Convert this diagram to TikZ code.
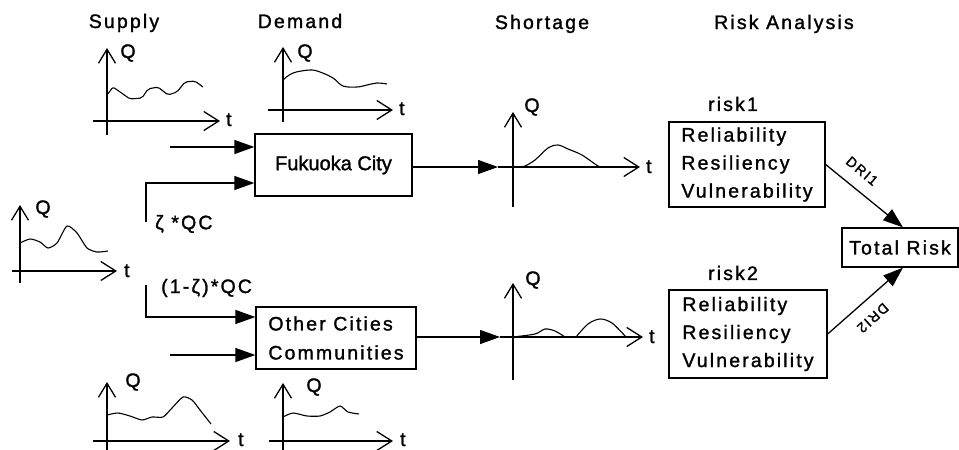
\documentclass[tikz,border=0pt]{standalone}
\usepackage{fontspec}
\setmainfont{Liberation Sans}[LetterSpace=11, FakeBold=1.4]
\newfontfamily\plainsf{Liberation Sans}[FakeBold=1.4]
\usetikzlibrary{arrows.meta}

\begin{document}
\begin{tikzpicture}[x=1pt,y=-1pt,
  lbl/.style={font=\fontsize{19.5}{22}\selectfont, inner sep=0pt},
  small/.style={font=\fontsize{14}{16}\selectfont, inner sep=0pt},
  box/.style={draw, line width=1.3pt, inner sep=0pt},
  vaxis/.style={line width=1.3pt, -{Straight Barb[length=14pt,width=17pt,line width=1.3pt]}},
  haxis/.style={line width=1.3pt, -{Straight Barb[length=15pt,width=19pt,line width=1.3pt]}},
  curve/.style={line width=1.1pt, line join=round},
  feed/.style={line width=1.3pt, -{Triangle[length=20pt,width=14pt]}}
]
\useasboundingbox (0,0) rectangle (959,450);

% column headings
\node[lbl, anchor=base] (hsup) at (124,28) {Supply};
\node[lbl, anchor=base] (hdem) at (300,28) {Demand};
\node[lbl, anchor=base] (hsho) at (542,29) {Shortage};
\node[lbl, anchor=base] (hrsk) at (784,29) {Risk Analysis};

% supply series, upper
\draw[vaxis] (107,135) -- (107,48);
\draw[haxis] (93,121) -- (220,121);
\node[lbl] (qa) at (128,53) {Q};
\node[lbl, anchor=base west] (ta) at (226,126) {t};
\draw[curve, rounded corners=2pt] (107,95) -- (113,87) -- (130,99) -- (142,98) -- (148,89) -- (158,87) -- (168,95) -- (177,92) -- (185,82) -- (195,81) -- (203,87);

% demand series, upper
\draw[vaxis] (283,122) -- (283,47);
\draw[haxis] (268,110) -- (393,110);
\node[lbl] (qb) at (305,53) {Q};
\node[lbl, anchor=base west] (tb) at (399,115) {t};
\draw[curve] plot[smooth, tension=0.6] coordinates {(283,80) (293,73) (310,70) (320,72) (333,78) (343,86) (357,87) (367,85) (377,83) (387,84)};

% total supply QC
\draw[vaxis] (20,283) -- (20,205);
\draw[haxis] (12,271) -- (117,271);
\node[lbl] (qc) at (43,209) {Q};
\node[lbl, anchor=base west] (tc) at (124,277) {t};
\draw[curve] plot[smooth, tension=0.4] coordinates {(20,243) (30,239) (40,242) (48,248) (57,243) (67,226) (77,233) (87,248) (97,252) (108,251)};

% supply series, lower
\draw[vaxis] (107,452) -- (107,382);
\draw[haxis] (93,441) -- (230,441);
\node[lbl] (qd) at (133,382) {Q};
\node[lbl, anchor=base west] (td) at (238,446) {t};
\draw[curve] plot[smooth, tension=0.4] coordinates {(107,415) (118,413) (130,416) (142,420) (152,417) (163,417) (172,408) (183,397) (192,400) (200,410) (211,424)};

% demand series, lower
\draw[vaxis] (283,452) -- (283,383);
\draw[haxis] (269,441) -- (393,441);
\node[lbl] (qe) at (314,387) {Q};
\node[lbl, anchor=base west] (te) at (400,446) {t};
\draw[curve] plot[smooth, tension=0.4] coordinates {(283,417) (293,413) (307,416) (320,416) (330,412) (340,406) (348,412) (359,414)};

% city blocks
\node[box, minimum width=157, minimum height=62] (fuk) at (333.5,165)
  {\plainsf\fontsize{20}{22}\selectfont Fukuoka City};
\node[box, minimum width=160, minimum height=62, align=left,
      font=\fontsize{19.5}{29}\selectfont] (oth) at (336,338)
  {Other Cities\\Communities};

% inflows to Fukuoka City
\coordinate (fa) at (170,147);
\draw[feed] (fa) -- (fa -| fuk.west);
\coordinate (za) at (146,222);
\coordinate (zb) at (146,183);
\draw[feed] (za) -- (zb) -- (zb -| fuk.west);
\node[lbl, anchor=west] (zl) at (155,224) {ζ *QC};

% inflows to other cities
\coordinate (ya) at (146,285);
\coordinate (yb) at (146,317);
\draw[feed] (ya) -- (yb) -- (yb -| oth.west);
\node[lbl, anchor=west] (yl) at (161,288) {(1-ζ)*QC};
\coordinate (fb) at (170,355);
\draw[feed] (fb) -- (fb -| oth.west);

% shortage, Fukuoka City
\coordinate (sa) at (498,167);
\draw[feed] (fuk.east |- sa) -- (sa);
\draw[vaxis] (513,207) -- (513,112);
\draw[haxis] (sa) -- (640,167);
\node[lbl] (qf) at (532,107) {Q};
\node[lbl, anchor=base west] (tf) at (646,173) {t};
\draw[curve] plot[smooth, tension=0.5] coordinates {(518,167) (525,166) (535,160) (548,148) (558,145) (568,149) (582,155) (598,166) (604,167)};

% shortage, other cities
\coordinate (sb) at (500,337);
\draw[feed] (oth.east |- sb) -- (sb);
\draw[vaxis] (513,380) -- (513,283);
\draw[haxis] (sb) -- (643,337);
\node[lbl] (qg) at (533,280) {Q};
\node[lbl, anchor=base west] (tg) at (649,343) {t};
\draw[curve] plot[smooth, tension=0.5] coordinates {(513,337) (535,334) (545,329) (555,331) (565,337)};
\draw[curve] plot[smooth, tension=0.5] coordinates {(576,337) (588,324) (600,319) (612,323) (626,337)};

% risk evaluation
\node[lbl] (r1l) at (733,104) {risk1};
\node[box, minimum width=156, minimum height=85, align=left,
      font=\fontsize{19.5}{28}\selectfont] (r1) at (747,164.5)
  {Reliability\\Resiliency\\Vulnerability};
\node[lbl] (r2l) at (733,273) {risk2};
\node[box, minimum width=158, minimum height=88, align=left,
      font=\fontsize{19.5}{28}\selectfont] (r2) at (748,334)
  {Reliability\\Resiliency\\Vulnerability};

\node[box, lbl, draw, minimum width=116, minimum height=39] (tot) at (900,247.5) {Total Risk};

\draw[feed] (r1.east) -- ([xshift=3pt]tot.north);
\draw[feed] (r2.east) -- ([xshift=3pt]tot.south);
\node[small, rotate=-40] (d1) at (862,171) {DRI1};
\node[small, rotate=222] (d2) at (873,318) {DRI2};
\end{tikzpicture}
\end{document}
